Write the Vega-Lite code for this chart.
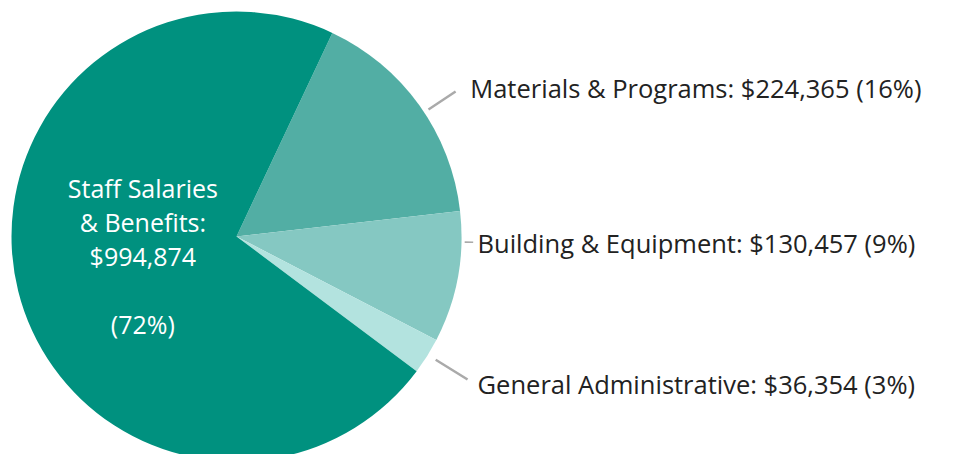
{
  "$schema": "https://vega.github.io/schema/vega-lite/v6.json",
  "width": 473,
  "height": 473,
  "padding": 0,
  "background": "white",
  "config": {"view": {"stroke": null}, "font": "Open Sans"},
  "data": {"values": [
    {"idx": 1, "cat": "Materials & Programs", "amount": 224365, "label": "Materials & Programs: $224,365 (16%)", "pct": "(16%)"},
    {"idx": 2, "cat": "Building & Equipment", "amount": 130457, "label": "Building & Equipment: $130,457 (9%)", "pct": "(9%)"},
    {"idx": 3, "cat": "General Administrative", "amount": 36354, "label": "General Administrative: $36,354 (3%)", "pct": "(3%)"},
    {"idx": 4, "cat": "Staff Salaries & Benefits", "amount": 994874, "label": "Staff Salaries\n& Benefits:\n$994,874", "pct": "(72%)"}
  ]},
  "layer": [
    {
      "mark": {"type": "arc", "outerRadius": 225, "stroke": null},
      "encoding": {
        "theta": {"field": "amount", "type": "quantitative", "stack": true, "scale": {"range": [0.44, 6.7232]}},
        "order": {"field": "idx", "type": "quantitative"},
        "color": {"field": "cat", "type": "nominal", "legend": null,
          "scale": {"domain": ["Materials & Programs", "Building & Equipment", "General Administrative", "Staff Salaries & Benefits"],
                    "range": ["#52aea4", "#85c8c2", "#b3e3df", "#00917f"]}}
      }
    },
    {
      "mark": {"type": "text", "align": "left", "baseline": "middle", "fontSize": 25.5, "color": "#222222",
        "radius": {"expr": "datum.idx == 1 ? 252 : datum.idx == 2 ? 241 : datum.idx == 3 ? 281 : 0"},
        "dx": {"expr": "datum.idx == 1 ? 29 : datum.idx == 2 ? 4 : datum.idx == 3 ? 3 : 0"},
        "dy": {"expr": "datum.idx == 2 ? -35 : 0"}},
      "encoding": {
        "theta": {"field": "amount", "type": "quantitative", "stack": true, "scale": {"range": [0.44, 6.7232]}},
        "order": {"field": "idx", "type": "quantitative"},
        "text": {"condition": {"test": "datum.idx <= 3", "field": "label"}, "value": ""}
      }
    },
    {
      "mark": {"type": "text", "align": "center", "baseline": "middle", "fontSize": 25, "lineHeight": 34, "lineBreak": "\n", "color": "white",
        "radius": {"expr": "datum.idx == 4 ? 96.5 : 0"}, "dy": {"expr": "datum.idx == 4 ? -70 : 0"}},
      "encoding": {
        "theta": {"field": "amount", "type": "quantitative", "stack": true, "scale": {"range": [0.44, 6.7232]}},
        "order": {"field": "idx", "type": "quantitative"},
        "text": {"condition": {"test": "datum.idx == 4", "field": "label"}, "value": ""}
      }
    },
    {
      "mark": {"type": "text", "align": "center", "baseline": "middle", "fontSize": 25, "color": "white",
        "radius": {"expr": "datum.idx == 4 ? 96.5 : 0"}, "dy": {"expr": "datum.idx == 4 ? 66 : 0"}},
      "encoding": {
        "theta": {"field": "amount", "type": "quantitative", "stack": true, "scale": {"range": [0.44, 6.7232]}},
        "order": {"field": "idx", "type": "quantitative"},
        "text": {"condition": {"test": "datum.idx == 4", "field": "pct"}, "value": ""}
      }
    },
    {
      "data": {"values": [{"note": "leader"}]},
      "layer": [
        {"mark": {"type": "arc", "theta": 0.984, "theta2": 0.988, "radius": 231, "radius2": 262, "fill": null, "stroke": "#aaaaaa", "strokeWidth": 1.5}, "encoding": {}},
        {"mark": {"type": "arc", "theta": 1.595, "theta2": 1.5955, "radius": 229, "radius2": 236, "fill": null, "stroke": "#aaaaaa", "strokeWidth": 1.5}, "encoding": {}},
        {"mark": {"type": "arc", "theta": 2.123, "theta2": 2.127, "radius": 235, "radius2": 271, "fill": null, "stroke": "#aaaaaa", "strokeWidth": 1.5}, "encoding": {}}
      ]
    }
  ]
}
